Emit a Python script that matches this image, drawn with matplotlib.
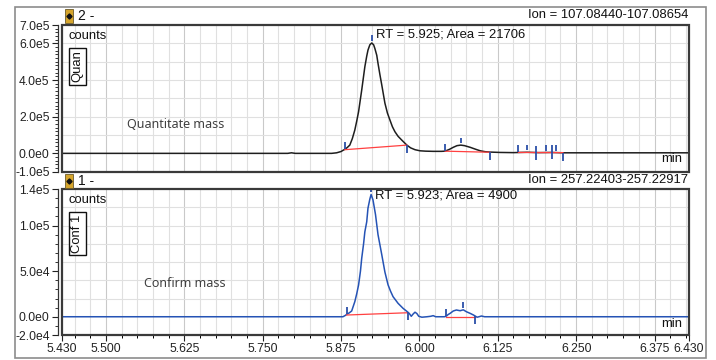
import numpy as np
import matplotlib.pyplot as plt
from matplotlib.patches import Rectangle
from matplotlib.lines import Line2D

plt.rcParams['font.family'] = ['Liberation Sans', 'DejaVu Sans']

# --- data ---
# quantifier trace (counts in units of 1e5)
quan_time = [5.430, 5.700, 5.790, 5.796, 5.802, 5.860, 5.868, 5.875, 5.881, 5.885,
             5.889, 5.893, 5.897, 5.900, 5.903, 5.908, 5.913, 5.916, 5.918, 5.921,
             5.924, 5.927, 5.929, 5.932, 5.934, 5.937, 5.940, 5.945, 5.949, 5.953,
             5.957, 5.961, 5.966, 5.972, 5.980, 5.986, 5.993, 6.001, 6.010, 6.022,
             6.035, 6.041, 6.048, 6.054, 6.060, 6.066, 6.072, 6.081, 6.090, 6.097,
             6.105, 6.113, 6.129, 6.150, 6.172, 6.190, 6.210, 6.230, 6.300, 6.430]
quan_e5 = [0.00, 0.00, 0.00, 0.03, 0.00, 0.00, 0.03, 0.10, 0.22, 0.32,
           0.45, 0.80, 1.27, 1.75, 2.27, 3.45, 4.72, 5.30, 5.63, 5.92,
           6.02, 5.92, 5.72, 5.35, 4.91, 4.30, 3.73, 2.74, 2.20, 1.82,
           1.45, 1.18, 0.93, 0.72, 0.45, 0.30, 0.20, 0.14, 0.12, 0.11,
           0.11, 0.12, 0.22, 0.33, 0.42, 0.45, 0.42, 0.33, 0.22, 0.14,
           0.09, 0.07, 0.05, 0.04, 0.06, 0.04, 0.05, 0.03, 0.03, 0.03]
quan_baselines = [(5.881, 0.20, 5.980, 0.45), (6.041, 0.12, 6.113, 0.06),
                  (6.158, 0.05, 6.229, 0.04)]
quan_marks = [(5.881, 'up'), (5.924, 'apex'), (5.980, 'down'), (6.041, 'up'),
              (6.066, 'apex'), (6.113, 'down'), (6.158, 'up'), (6.172, 'apex'),
              (6.186, 'cross'), (6.202, 'apex'), (6.211, 'cross'), (6.218, 'apex'),
              (6.229, 'down')]
quan_rt, quan_area = 5.925, 21706
quan_ion = 'Ion = 107.08440-107.08654'

# qualifier trace (counts in units of 1e4)
conf_time = [5.430, 5.878, 5.882, 5.884, 5.888, 5.892, 5.897, 5.900, 5.903, 5.906,
             5.908, 5.911, 5.913, 5.916, 5.918, 5.921, 5.923, 5.926, 5.928, 5.930,
             5.934, 5.937, 5.940, 5.945, 5.950, 5.954, 5.958, 5.966, 5.974, 5.982,
             5.984, 5.987, 5.990, 5.993, 5.996, 5.999, 6.004, 6.012, 6.018, 6.022,
             6.026, 6.040, 6.043, 6.046, 6.049, 6.054, 6.059, 6.065, 6.070, 6.075,
             6.081, 6.086, 6.089, 6.092, 6.095, 6.099, 6.104, 6.430]
conf_e4 = [0.00, 0.00, 0.15, 0.26, 0.42, 0.63, 1.65, 2.50, 3.48, 5.00,
           6.40, 8.00, 9.30, 10.4, 11.9, 12.9, 13.4, 12.8, 12.0, 11.2,
           9.00, 7.90, 6.80, 4.90, 3.50, 2.80, 2.20, 1.47, 0.92, 0.48,
           0.35, 0.05, 0.30, 0.50, 0.35, 0.05, -0.05, 0.00, 0.05, 0.12,
           0.00, 0.00, 0.07, 0.25, 0.37, 0.63, 0.74, 0.66, 0.76, 0.55,
           0.37, 0.20, 0.08, -0.05, 0.00, 0.08, 0.00, 0.00]
conf_baselines = [(5.884, 0.19, 5.982, 0.44), (6.043, 0.00, 6.089, 0.00)]
conf_marks = [(5.884, 'up'), (5.923, 'apex'), (5.982, 'down'), (6.043, 'up'),
              (6.070, 'apex'), (6.089, 'down')]
conf_rt, conf_area = 5.923, 4900
conf_ion = 'Ion = 257.22403-257.22917'

x_ticks = [5.430, 5.500, 5.625, 5.750, 5.875, 6.000, 6.125, 6.250, 6.375, 6.430]
x_labels = ['5.430', '5.500', '5.625', '5.750', '5.875', '6.000', '6.125', '6.250', '6.375', '6.430']
quan_yticks = [7e5, 6e5, 4e5, 2e5, 0, -1e5]
quan_ylabels = ['7.0e5', '6.0e5', '4.0e5', '2.0e5', '0.0e0', '-1.0e5']
conf_yticks = [1.4e5, 1e5, 5e4, 0, -2e4]
conf_ylabels = ['1.4e5', '1.0e5', '5.0e4', '0.0e0', '-2.0e4']

W, H = 716, 360
fig = plt.figure(figsize=(W / 100, H / 100), dpi=100)
fig.patch.set_facecolor('white')


def px_axes(x0, y0, x1, y1):
    return fig.add_axes([x0 / W, 1 - y1 / H, (x1 - x0) / W, (y1 - y0) / H])


def panel(ax, t, y, color, ylim, yticks, ylabels, yminor, hgrid, baselines, marks,
          rt, area, rt_dy, tag, note, note_y, show_x):
    ax.set_xlim(5.43, 6.43)
    ax.set_ylim(*ylim)
    for s in ax.spines.values():
        s.set_visible(False)
    ax.spines['left'].set_visible(True)
    ax.spines['left'].set_position(('outward', 2.9))
    ax.spines['left'].set_color('#333333')
    ax.spines['left'].set_linewidth(0.9)
    ax.add_patch(Rectangle((0, 0), 1, 1, transform=ax.transAxes, fill=False,
                           ec='#3a3a3a', lw=1.6, clip_on=False, zorder=8))

    # grid
    for g in np.arange(5.45, 6.43, 0.025):
        major = any(abs(g - m) < 1e-6 for m in x_ticks)
        ax.axvline(g, color='#c9c9c9' if major else '#e0e0e0', lw=0.8, zorder=1)
    for g in hgrid:
        ax.axhline(g, color='#e0e0e0', lw=0.8, zorder=1)

    ax.set_yticks(yticks)
    ax.set_yticklabels(ylabels)
    ax.set_yticks(np.arange(ylim[0], ylim[1] + 1, yminor), minor=True)
    ax.tick_params(axis='y', which='major', length=4, width=0.8, labelsize=8.7,
                   pad=2, colors='#222222')
    ax.tick_params(axis='y', which='minor', length=2.3, width=0.7, colors='#333333')

    ax.set_xticks(x_ticks)
    ax.set_xticks(np.arange(5.45, 6.43, 0.025), minor=True)
    if show_x:
        ax.set_xticklabels(x_labels)
        ax.tick_params(axis='x', which='major', length=4, width=0.8, labelsize=8.7,
                       pad=1.5, colors='#222222')
        ax.tick_params(axis='x', which='minor', length=2.3, width=0.7)
    else:
        ax.tick_params(axis='x', which='both', bottom=False, labelbottom=False)

    ax.plot(t, y, color=color, lw=1.1, zorder=3)
    for t0, v0, t1, v1 in baselines:
        ax.plot([t0, t1], [v0, v1], color='#ff4040', lw=0.9, zorder=4)

    # peak markers, lengths in pixels converted to data units
    h_px = ax.get_position().height * H
    dpp = (ylim[1] - ylim[0]) / h_px
    spans = {'up': (0, 7), 'down': (-8, 0), 'apex': (2, 7.5), 'cross': (-7, 7)}
    for mt, kind in marks:
        v = np.interp(mt, t, y)
        lo, hi = spans[kind]
        ax.vlines(mt, v + lo * dpp, v + hi * dpp, color='#2b4fa8', lw=1.3, zorder=6)

    ax.annotate(f'RT = {rt:.3f}; Area = {area}', xy=(rt, 1),
                xycoords=('data', 'axes fraction'), xytext=(2.6, rt_dy),
                textcoords='offset points', ha='left', va='center', fontsize=9.4,
                color='#111111', zorder=9)
    ax.text(0.010, 0.925, 'counts', transform=ax.transAxes, ha='left', va='center',
            fontsize=9.4, color='#111111', zorder=9)
    ax.text(0.0247, tag[1], tag[0], transform=ax.transAxes, rotation=90,
            ha='center', va='center', fontsize=9.4, color='#111111', zorder=9,
            bbox=dict(boxstyle='square,pad=0.2', fc='white', ec='#111111', lw=1.0))
    ax.text(note[1], note_y, note[0], transform=ax.transAxes, ha='left', va='center',
            fontsize=9, color='#404040', family=['Noto Sans', 'DejaVu Sans'], zorder=9)
    ax.text(0.972, tag[2], 'min', transform=ax.transAxes, ha='center', va='center',
            fontsize=9.4, color='#111111', zorder=9)


ax1 = px_axes(62, 25, 689, 171.7)
ax2 = px_axes(62, 189, 689, 335)

panel(ax1, quan_time, np.array(quan_e5) * 1e5, '#1e1e1e', (-1e5, 7e5),
      quan_yticks, quan_ylabels, 2e4, np.arange(1e5, 7e5, 1e5),
      [(a, b * 1e5, c, d * 1e5) for a, b, c, d in quan_baselines], quan_marks,
      quan_rt, quan_area, -6.5, ('Quan', 0.717, 0.087), ('Quantitate mass', 0.1037),
      0.325, False)
panel(ax2, conf_time, np.array(conf_e4) * 1e4, '#2553b5', (-2e4, 1.4e5),
      conf_yticks, conf_ylabels, 1e4, np.arange(2e4, 1.4e5, 2e4),
      [(a, b * 1e4, c, d * 1e4) for a, b, c, d in conf_baselines], conf_marks,
      conf_rt, conf_area, -5.0, ('Conf 1', 0.695, 0.075), ('Confirm mass', 0.130),
      0.354, True)

# headers and outer frame
fig.add_artist(Rectangle((15 / W, 1 - 358 / H), 691 / W, 351 / H, transform=fig.transFigure,
                         fill=False, ec='#8c8c8c', lw=1.2))
for ytop, label, ion in [(9, '2 -', quan_ion), (174, '1 -', conf_ion)]:
    fig.add_artist(Rectangle((65 / W, 1 - (ytop + 14) / H), 8 / W, 14 / H,
                             transform=fig.transFigure, fc='#d6a52c', ec='#6b5a2a', lw=0.6))
    fig.add_artist(Line2D([69 / W], [1 - (ytop + 7) / H], marker='D', ms=2.6, color='#111111',
                          transform=fig.transFigure))
    fig.text(78 / W, 1 - (ytop + 7) / H, label, ha='left', va='center', fontsize=10,
             color='#111111')
    fig.text(688 / W, 1 - (ytop + 6) / H, ion, ha='right', va='center', fontsize=9.4,
             color='#111111')

fig.savefig('out.png', dpi=100)
